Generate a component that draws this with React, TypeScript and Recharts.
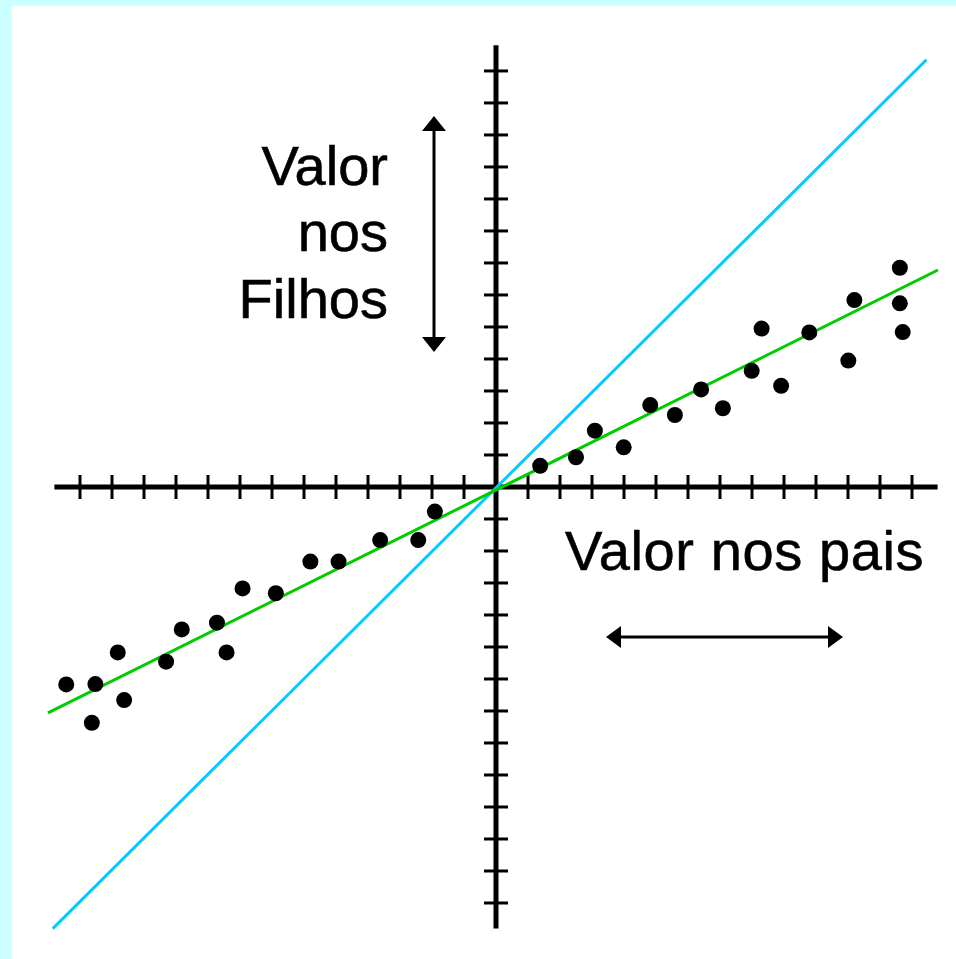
import { Scatter, ScatterChart, XAxis, YAxis } from "recharts";

// plot units: one tick = 1, origin where the two axes cross
const xTicks = [-13, -12, -11, -10, -9, -8, -7, -6, -5, -4, -3, -2, -1, 1, 2, 3, 4, 5, 6, 7, 8, 9, 10, 11, 12, 13];
const yTicks = [-13, -12, -11, -10, -9, -8, -7, -6, -5, -4, -3, -2, -1, 1, 2, 3, 4, 5, 6, 7, 8, 9, 10, 11, 12, 13];

const xAxisLine = [{ x: -13.8, y: 0 }, { x: 13.8, y: 0 }];
const yAxisLine = [{ x: 0, y: -13.8 }, { x: 0, y: 13.8 }];

// parents vs children: identity line and fitted line
const identityLine = [{ x: -13.85, y: -13.8 }, { x: 13.45, y: 13.35 }];
const fittedLine = [{ x: -14.0, y: -7.06 }, { x: 13.81, y: 6.78 }];

const parentValues = [
  -13.43, -12.52, -12.63, -11.82, -11.62, -10.31, -9.82, -8.72, -8.42, -7.92, -6.88, -5.8, -4.92, -3.62, -2.43, -1.91,
  1.38, 2.5, 3.09, 3.99, 4.82, 5.59, 6.41, 7.09, 7.99, 8.3, 8.91, 9.79, 11.01, 11.2, 12.62, 12.62, 12.71,
];
const childValues = [
  -6.17, -6.16, -7.37, -5.17, -6.66, -5.46, -4.45, -4.24, -5.17, -3.17, -3.32, -2.33, -2.33, -1.66, -1.66, -0.77,
  0.66, 0.93, 1.76, 1.24, 2.56, 2.25, 3.05, 2.46, 3.63, 4.95, 3.16, 4.83, 3.95, 5.84, 6.85, 5.74, 4.84,
];

const points = parentValues.map((x, i) => ({ x, y: childValues[i] }));
const xTickPoints = xTicks.map((x) => ({ x, y: 0 }));
const yTickPoints = yTicks.map((y) => ({ x: 0, y }));

const FONT = "'Liberation Sans', Arial, sans-serif";
const TICK_HALF = 12;

const NoMark = () => <g />;

const Dot = (props: any) => <circle cx={props.cx} cy={props.cy} r={8} fill="#000" />;

const VTick = (props: any) => (
  <line x1={props.cx} x2={props.cx} y1={props.cy - TICK_HALF} y2={props.cy + TICK_HALF} stroke="#000" strokeWidth={3} />
);

const HTick = (props: any) => (
  <line x1={props.cx - TICK_HALF} x2={props.cx + TICK_HALF} y1={props.cy} y2={props.cy} stroke="#000" strokeWidth={3} />
);

export default function App() {
  return (
    <div style={{ position: "absolute", left: 0, top: 0, width: 956, height: 959, background: "#ccffff" }}>
      <div style={{ position: "absolute", left: 12, top: 6, width: 944, height: 953, background: "#fff" }}>
        <ScatterChart width={944} height={953} margin={{ top: 0, right: 0, bottom: 0, left: 0 }}>
          <XAxis type="number" dataKey="x" domain={[-15.125, 14.375]} hide allowDataOverflow />
          <YAxis type="number" dataKey="y" domain={[-14.75, 15.03]} hide allowDataOverflow />
          <Scatter data={xAxisLine} line={{ stroke: "#000", strokeWidth: 5 }} shape={NoMark} isAnimationActive={false} />
          <Scatter data={yAxisLine} line={{ stroke: "#000", strokeWidth: 5 }} shape={NoMark} isAnimationActive={false} />
          <Scatter data={xTickPoints} shape={VTick} isAnimationActive={false} />
          <Scatter data={yTickPoints} shape={HTick} isAnimationActive={false} />
          <Scatter data={identityLine} line={{ stroke: "#00ccff", strokeWidth: 3 }} shape={NoMark} isAnimationActive={false} />
          <Scatter data={fittedLine} line={{ stroke: "#00cc00", strokeWidth: 3 }} shape={NoMark} isAnimationActive={false} />
          <Scatter data={points} shape={Dot} isAnimationActive={false} />
        </ScatterChart>
      </div>
      <svg width={956} height={959} style={{ position: "absolute", left: 0, top: 0, pointerEvents: "none" }}>
        <g fontFamily={FONT} fontSize={56} fill="#000" stroke="#000" strokeWidth={0.6} textAnchor="end">
          <text x={388} y={185}>Valor</text>
          <text x={388} y={251}>nos</text>
          <text x={388} y={318}>Filhos</text>
        </g>
        <text x={565} y={570} fontFamily={FONT} fontSize={56} fill="#000" stroke="#000" strokeWidth={0.6} letterSpacing={0.6}>
          Valor nos pais
        </text>
        {/* vertical double arrow */}
        <line x1={434} x2={434} y1={125} y2={342} stroke="#000" strokeWidth={3} />
        <polygon points="434,116 422,131 446,131" fill="#000" />
        <polygon points="434,352 422,337 446,337" fill="#000" />
        {/* horizontal double arrow */}
        <line x1={615} x2={834} y1={637} y2={637} stroke="#000" strokeWidth={3} />
        <polygon points="606,637 621,626 621,648" fill="#000" />
        <polygon points="843,637 828,626 828,648" fill="#000" />
      </svg>
    </div>
  );
}
